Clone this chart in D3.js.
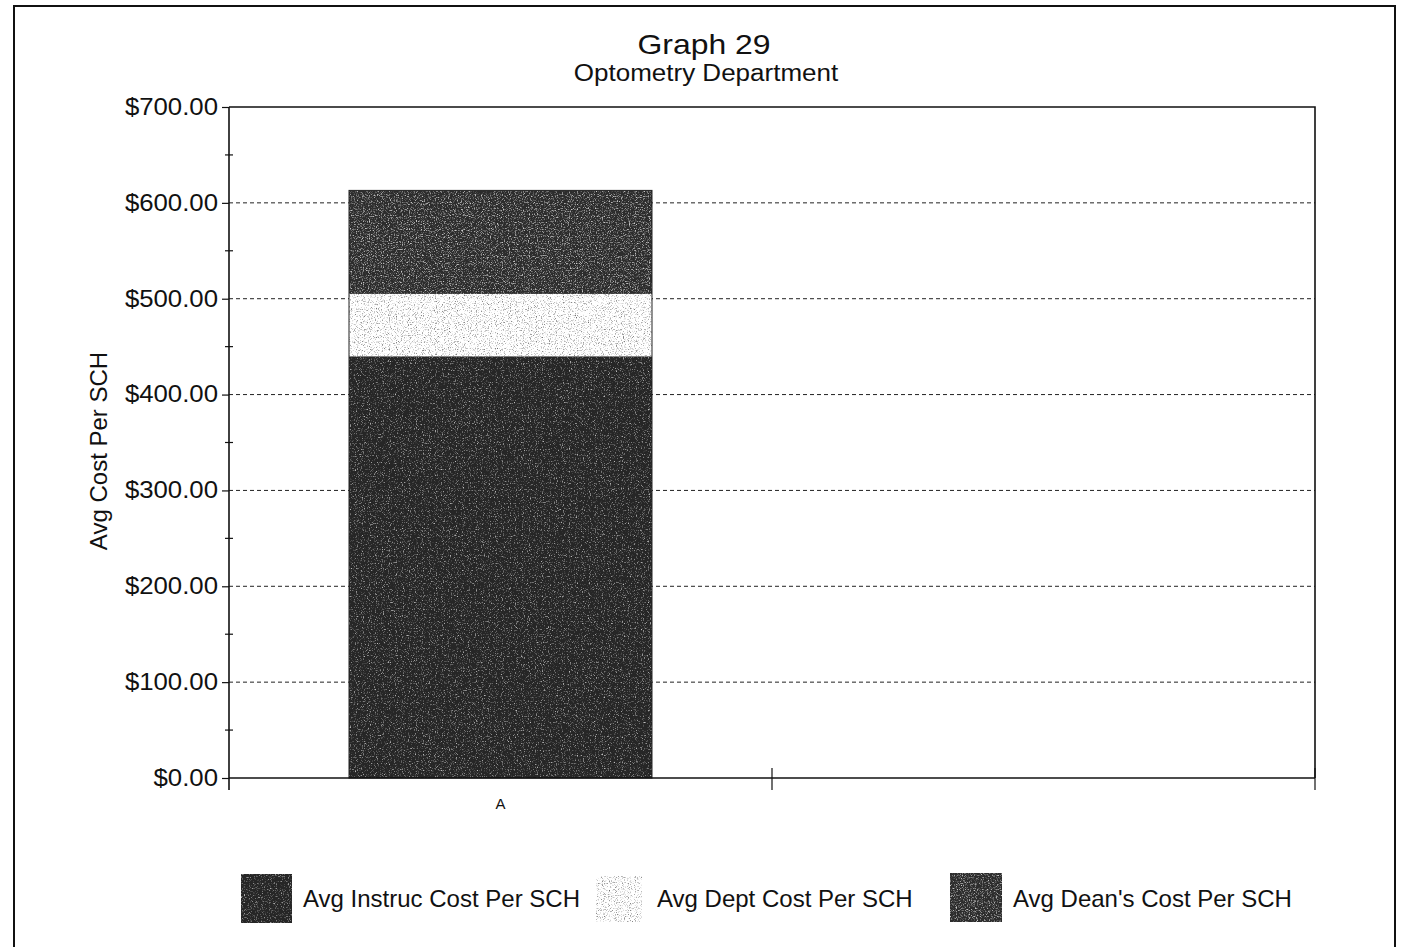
<!DOCTYPE html>
<html>
<head>
<meta charset="utf-8">
<script src="https://cdn.jsdelivr.net/npm/d3@7"></script>
<style>
  html, body { margin: 0; padding: 0; background: #fff; }
  svg { display: block; font-family: "Liberation Sans", Arial, sans-serif; }
</style>
</head>
<body>
<svg id="chart" width="1401" height="947"></svg>
<script>
// Categories on the x axis (second slot is empty)
const categories = ["A", ""];
// Stacked series, bottom to top
const seriesNames = ["Avg Instruc Cost Per SCH", "Avg Dept Cost Per SCH", "Avg Dean's Cost Per SCH"];
const instrucCost = [440, null];
const deptCost = [65, null];
const deanCost = [108, null];
// Y axis tick values and labels
const yTicks = [0, 100, 200, 300, 400, 500, 600, 700];
const yTickLabels = ["$0.00", "$100.00", "$200.00", "$300.00", "$400.00", "$500.00", "$600.00", "$700.00"];

const svg = d3.select("#chart");
const W = 1401, H = 947;
const plot = { left: 229, right: 1315, top: 107, bottom: 778 };

// Widen a text element horizontally by factor k
function widen(sel, k) {
  sel.each(function () {
    const len = this.getComputedTextLength();
    if (len > 0) d3.select(this).attr("textLength", len * k).attr("lengthAdjust", "spacingAndGlyphs");
  });
}

// Textured fills
const defs = svg.append("defs");
function speckle(id, spotColor, slope, offset, seed) {
  const f = defs.append("filter").attr("id", id)
    .attr("x", 0).attr("y", 0).attr("width", 1).attr("height", 1)
    .attr("color-interpolation-filters", "sRGB");
  f.append("feTurbulence").attr("type", "fractalNoise").attr("baseFrequency", 0.85)
    .attr("numOctaves", 2).attr("seed", seed).attr("result", "noise");
  const c = d3.color(spotColor);
  f.append("feColorMatrix").attr("in", "noise").attr("type", "matrix")
    .attr("values", `0 0 0 0 ${c.r/255}  0 0 0 0 ${c.g/255}  0 0 0 0 ${c.b/255}  ${slope} 0 0 0 ${offset}`)
    .attr("result", "spots");
  f.append("feComposite").attr("in", "spots").attr("in2", "SourceGraphic").attr("operator", "in").attr("result", "clipped");
  const m = f.append("feMerge");
  m.append("feMergeNode").attr("in", "SourceGraphic");
  m.append("feMergeNode").attr("in", "clipped");
}
speckle("texDark", "#bdbdbd", 3.2, -1.75, 4);
speckle("texLight", "#6a6a6a", 3.0, -1.6, 9);
speckle("texDean", "#c8c8c8", 3.2, -1.6, 11);

const fills = ["#262626", "#ffffff", "#2c2c2c"];
const filters = ["url(#texDark)", "url(#texLight)", "url(#texDean)"];

// Outer frame
svg.append("path")
  .attr("d", `M14,${H + 2} L14,6 L1395,6 L1395,${H + 2}`)
  .attr("fill", "none").attr("stroke", "#111").attr("stroke-width", 2);

// Scales
const x = d3.scaleBand().domain(categories).range([plot.left, plot.right]).padding(0);
const y = d3.scaleLinear().domain([0, 700]).range([plot.bottom, plot.top]);

// Gridlines
svg.append("g").selectAll("line")
  .data(yTicks.filter(v => v > 0 && v < 700))
  .join("line")
  .attr("x1", plot.left).attr("x2", plot.right)
  .attr("y1", d => y(d)).attr("y2", d => y(d))
  .attr("stroke", "#222").attr("stroke-width", 1).attr("stroke-dasharray", "4,3");

// Plot border (top and right)
svg.append("path")
  .attr("d", `M${plot.left},${y(700)} L${plot.right},${y(700)} L${plot.right},${plot.bottom}`)
  .attr("fill", "none").attr("stroke", "#111").attr("stroke-width", 1.6);

// Stacked bars
const rows = categories.map((c, i) => ({ cat: c, v: [instrucCost[i], deptCost[i], deanCost[i]] }));
const barW = x.bandwidth() * 0.558;
const barG = svg.append("g");
rows.forEach(r => {
  if (r.v[0] == null) return;
  let base = 0;
  r.v.forEach((val, k) => {
    const top = base + val;
    barG.append("rect")
      .attr("x", x(r.cat) + (x.bandwidth() - barW) / 2)
      .attr("width", barW)
      .attr("y", y(top))
      .attr("height", y(base) - y(top))
      .attr("fill", fills[k])
      .attr("filter", filters[k]);
    base = top;
  });
  barG.append("rect")
    .attr("x", x(r.cat) + (x.bandwidth() - barW) / 2)
    .attr("width", barW)
    .attr("y", y(r.v[0] + r.v[1] + r.v[2]))
    .attr("height", y(0) - y(r.v[0] + r.v[1] + r.v[2]))
    .attr("fill", "none").attr("stroke", "#222").attr("stroke-width", 1);
});

// Y axis
const yAxis = d3.axisLeft(y).tickValues(yTicks)
  .tickFormat((d, i) => yTickLabels[i]).tickSize(7).tickPadding(4);
const yG = svg.append("g").attr("transform", `translate(${plot.left},0)`).call(yAxis);
yG.select(".domain").attr("stroke", "#111").attr("stroke-width", 1.6)
  .attr("d", `M0,${y(700)}V${plot.bottom + 12}`);
yG.selectAll(".tick line").attr("stroke", "#111").attr("stroke-width", 1.2);
yG.selectAll(".tick text").attr("font-size", 23).attr("fill", "#111")
  .attr("font-family", "'Liberation Sans', Arial, sans-serif").call(widen, 1.12);
// Minor ticks crossing the axis
yG.append("g").selectAll("line")
  .data(d3.range(50, 700, 100))
  .join("line")
  .attr("x1", -4).attr("x2", 4)
  .attr("y1", d => y(d)).attr("y2", d => y(d))
  .attr("stroke", "#111").attr("stroke-width", 1.2);

// X axis baseline and category boundary ticks
svg.append("line")
  .attr("x1", plot.left).attr("x2", plot.right)
  .attr("y1", plot.bottom).attr("y2", plot.bottom)
  .attr("stroke", "#111").attr("stroke-width", 1.4);
const bounds = categories.map(c => x(c)).concat([x(categories[categories.length - 1]) + x.bandwidth()]).slice(1);
svg.append("g").selectAll("line").data(bounds).join("line")
  .attr("x1", d => d).attr("x2", d => d)
  .attr("y1", plot.bottom - 10).attr("y2", plot.bottom + 12)
  .attr("stroke", "#111").attr("stroke-width", 1.2);
svg.append("g").selectAll("text").data(categories).join("text")
  .attr("x", d => x(d) + x.bandwidth() / 2)
  .attr("y", plot.bottom + 31)
  .attr("text-anchor", "middle").attr("font-size", 15).attr("fill", "#111")
  .text(d => d);

// Titles
svg.append("text").attr("x", 704).attr("y", 54).attr("text-anchor", "middle")
  .attr("font-size", 28).attr("fill", "#111").text("Graph 29").call(widen, 1.14);
svg.append("text").attr("x", 706).attr("y", 81).attr("text-anchor", "middle")
  .attr("font-size", 23).attr("fill", "#111").text("Optometry Department").call(widen, 1.13);

// Y axis title
svg.append("text")
  .attr("transform", `translate(107,451) rotate(-90)`)
  .attr("text-anchor", "middle").attr("font-size", 24).attr("fill", "#111")
  .text("Avg Cost Per SCH");

// Legend
const legendItems = [
  { sx: 241, sy: 874, sw: 51, sh: 49, tx: 303 },
  { sx: 596, sy: 876, sw: 46, sh: 46, tx: 657 },
  { sx: 950, sy: 873, sw: 52, sh: 49, tx: 1013 }
];
const lg = svg.append("g");
legendItems.forEach((it, k) => {
  lg.append("rect").attr("x", it.sx).attr("y", it.sy).attr("width", it.sw).attr("height", it.sh)
    .attr("fill", fills[k]).attr("filter", filters[k]);
  lg.append("text").attr("x", it.tx).attr("y", 907).attr("font-size", 24).attr("fill", "#111")
    .text(seriesNames[k]);
});
</script>
</body>
</html>
